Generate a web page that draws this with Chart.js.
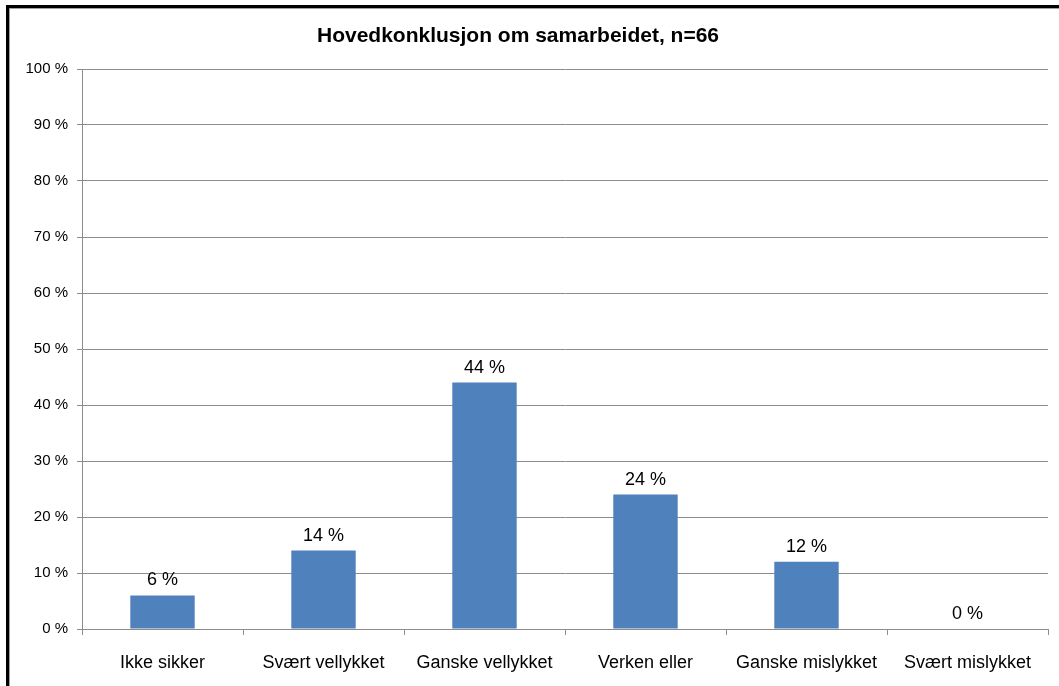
<!DOCTYPE html>
<html>
<head>
<meta charset="utf-8">
<script src="https://cdn.jsdelivr.net/npm/chart.js@4"></script>
<style>
  html, body { margin: 0; padding: 0; background: #fff; }
  body { width: 1059px; height: 686px; position: relative; overflow: hidden; }
  #frame { position: absolute; left: 6px; top: 5px; width: 1100px; height: 720px;
           border-left: 3px solid #000; border-top: 3px solid #000; box-sizing: border-box; }
  #inner { position: absolute; left: 0; top: 0; right: 0; bottom: 0;
           border-left: 1px solid #a0a0a0; border-top: 1px solid #a0a0a0; }
  #wrap { position: absolute; left: 0; top: 0; width: 1059px; height: 686px; }
</style>
</head>
<body>
<div id="frame"><div id="inner"></div></div>
<div id="wrap"><canvas id="c" width="1059" height="686"></canvas></div>
<script>
const chartTitle = "Hovedkonklusjon om samarbeidet, n=66";
const categories = ["Ikke sikker", "Svært vellykket", "Ganske vellykket", "Verken eller", "Ganske mislykket", "Svært mislykket"];
const values = [6, 14, 44, 24, 12, 0];
const yTicks = [0, 10, 20, 30, 40, 50, 60, 70, 80, 90, 100];

const FONT = '"Liberation Sans", Arial, sans-serif';
const GRID = '#8c8c8c';

const extras = {
  id: 'extras',
  afterDatasetsDraw(chart) {
    const ctx = chart.ctx;
    ctx.save();
    ctx.fillStyle = '#000';
    ctx.textAlign = 'center';
    ctx.textBaseline = 'alphabetic';
    ctx.font = '18px ' + FONT;
    const meta = chart.getDatasetMeta(0);
    meta.data.forEach((bar, i) => {
      ctx.fillText(values[i] + ' %', bar.x, bar.y - 10);
    });
    ctx.font = 'bold 21px ' + FONT;
    ctx.fillText(chartTitle, 518, 42);
    ctx.restore();
  }
};

new Chart(document.getElementById('c'), {
  type: 'bar',
  data: {
    labels: categories,
    datasets: [{
      data: values,
      backgroundColor: '#4f81bd',
      borderWidth: 0,
      categoryPercentage: 1,
      barPercentage: 0.4
    }]
  },
  options: {
    responsive: false,
    animation: false,
    devicePixelRatio: 1,
    layout: { padding: { left: 0, right: 11, top: 69, bottom: 0 } },
    plugins: { legend: { display: false }, title: { display: false }, tooltip: { enabled: false } },
    scales: {
      x: {
        grid: { offset: true, drawOnChartArea: false, drawTicks: true, tickLength: 6, color: GRID },
        border: { display: true, color: GRID },
        ticks: { color: '#000', font: { family: FONT, size: 18 }, padding: 17, maxRotation: 0 },
        afterFit(scale) { scale.height = 57; }
      },
      y: {
        min: 0, max: 100,
        afterBuildTicks(scale) { scale.ticks = yTicks.map(v => ({ value: v })); },
        grid: { color: GRID, tickLength: 5, drawTicks: true },
        border: { display: true, color: GRID },
        ticks: { color: '#000', font: { family: FONT, size: 15 }, padding: 9, callback: v => v + ' %' },
        afterFit(scale) { scale.width = 82; }
      }
    }
  },
  plugins: [extras]
});
</script>
</body>
</html>
